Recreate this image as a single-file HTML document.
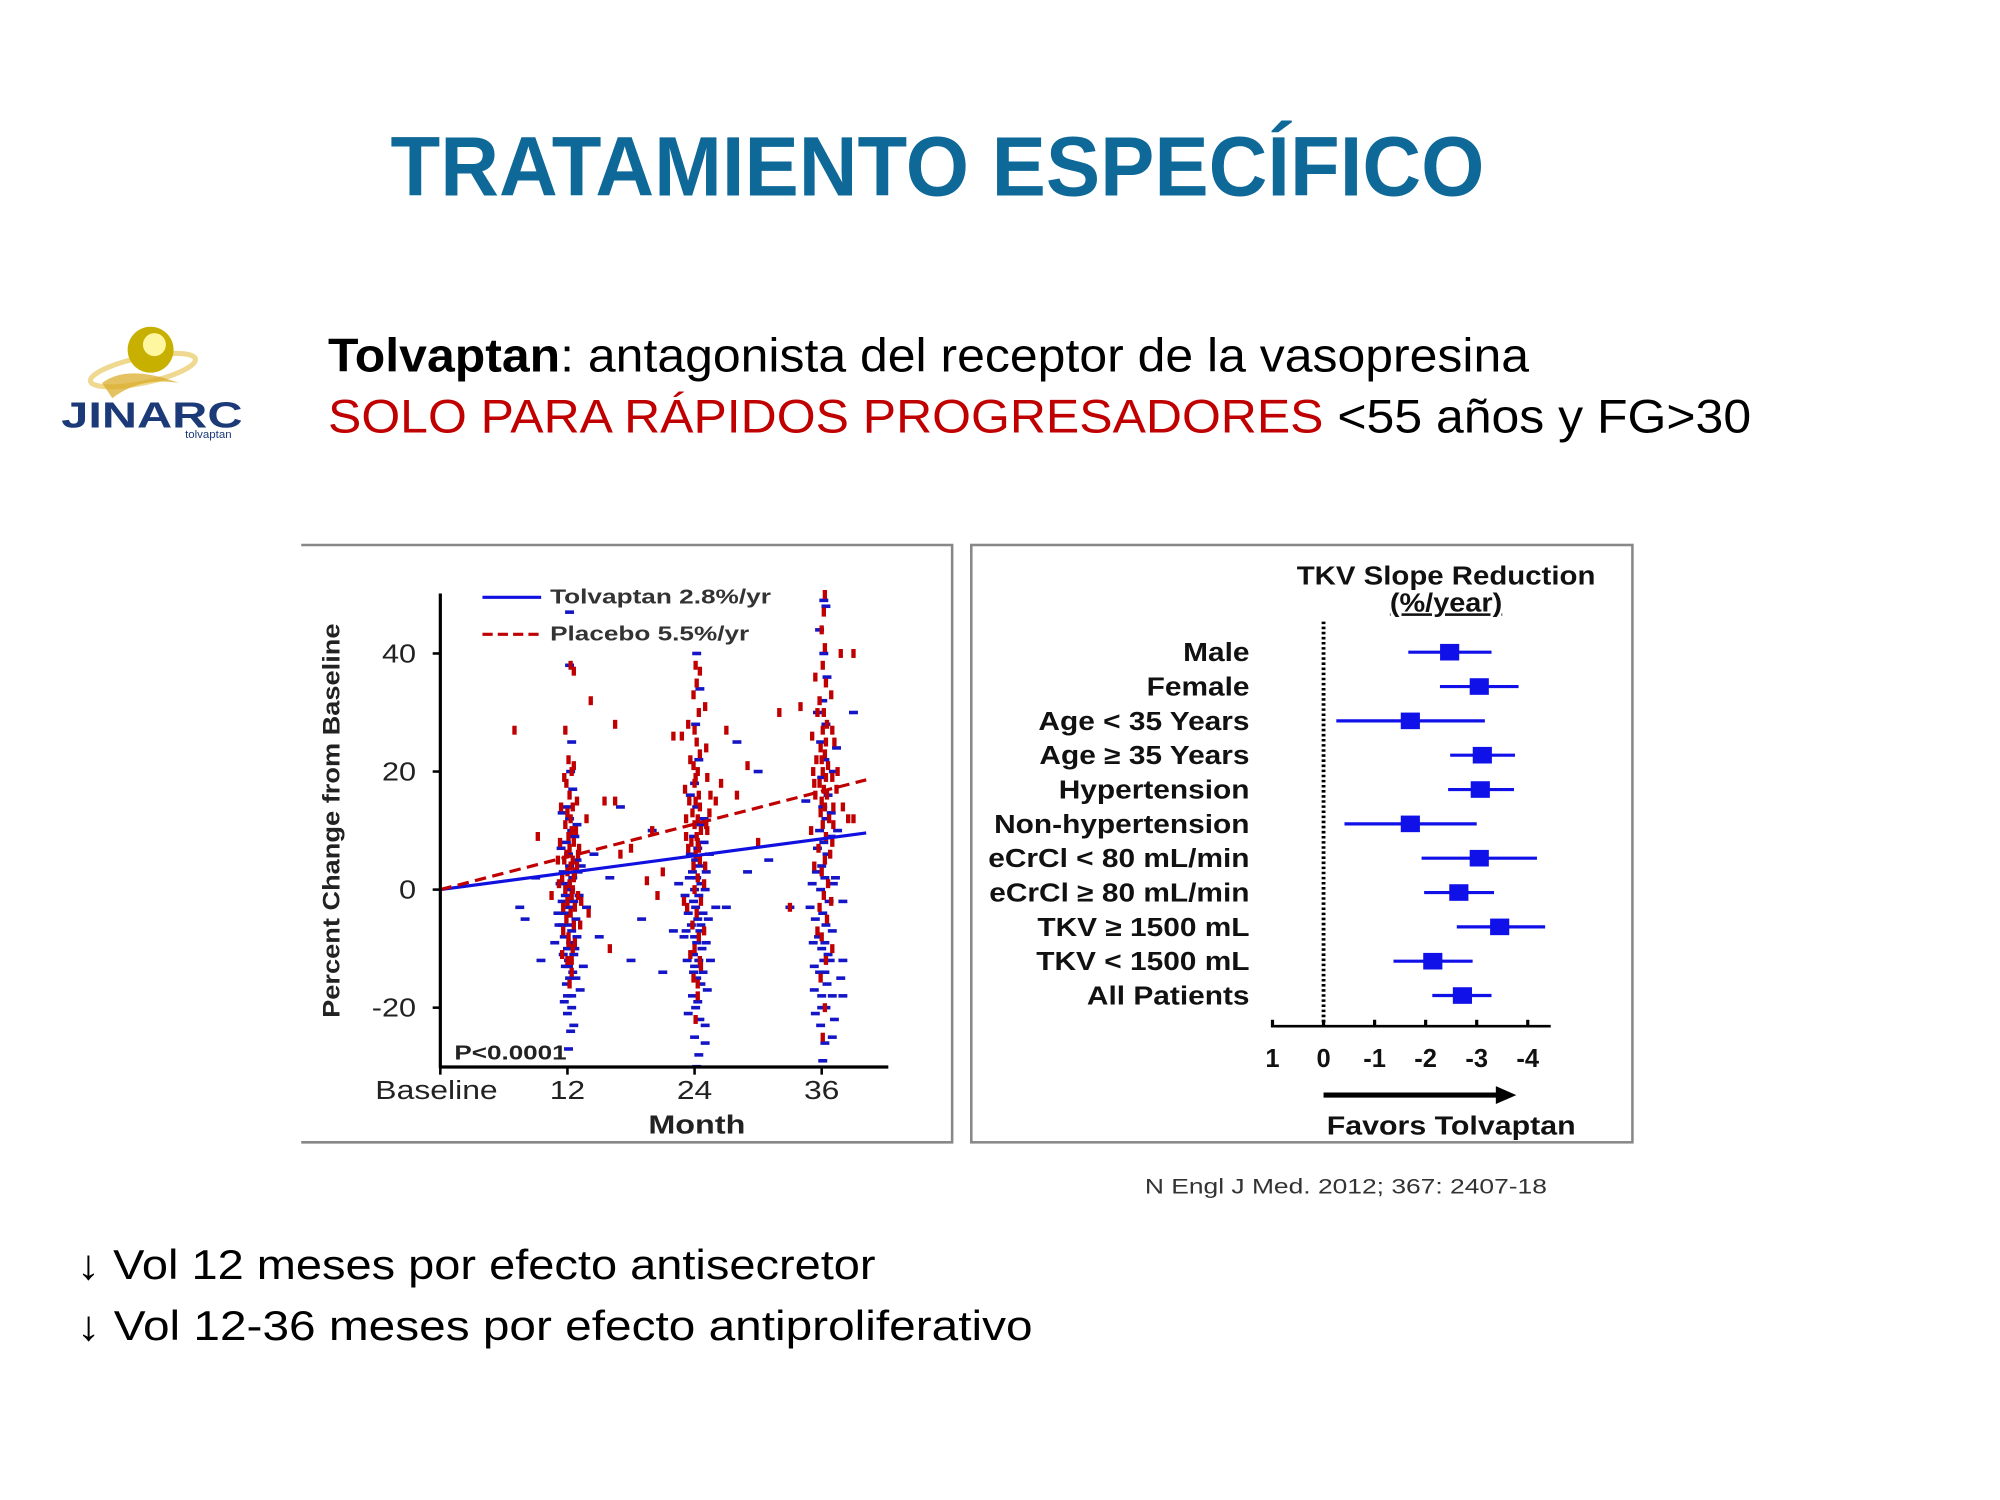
<!DOCTYPE html>
<html><head><meta charset="utf-8"><style>
html,body{margin:0;padding:0;background:#fff;}
svg{display:block;}
text{font-family:"Liberation Sans",Arial,sans-serif;}
</style></head><body>
<svg id="slide" width="2000" height="1500" viewBox="0 0 1567 1175" preserveAspectRatio="xMinYMin meet" xmlns="http://www.w3.org/2000/svg">
<rect x="0" y="0" width="1567" height="1175" fill="#fff"/>
<text x="306" y="153" font-size="66" font-weight="bold" fill="#0e6898" textLength="857" lengthAdjust="spacingAndGlyphs">TRATAMIENTO ESPECÍFICO</text>

<g>
<ellipse cx="112" cy="290" rx="42" ry="10" fill="none" stroke="#e8c860" stroke-width="4" opacity="0.7" transform="rotate(-12 112 290)"/>
<path d="M80 300 Q100 285 140 300 Q110 295 88 312 Z" fill="#d9a820" opacity="0.7"/>
<circle cx="118" cy="274" r="18" fill="#c8b000"/>
<circle cx="121" cy="270" r="9" fill="#fff6a0"/>
<text x="48" y="335" font-size="28" font-weight="bold" fill="#1c3a78" textLength="142" lengthAdjust="spacingAndGlyphs">JINARC</text>
<text x="145" y="343" font-size="9" fill="#1c3a78">tolvaptan</text>
</g>

<text x="257" y="291" font-size="37" fill="#000" textLength="941" lengthAdjust="spacingAndGlyphs"><tspan font-weight="bold">Tolvaptan</tspan>: antagonista del receptor de la vasopresina</text>
<text x="257" y="339" font-size="37" fill="#000" textLength="1115" lengthAdjust="spacingAndGlyphs"><tspan fill="#c00000">SOLO PARA RÁPIDOS PROGRESADORES</tspan> &lt;55 años y FG&gt;30</text>

<g>
<path d="M236 427 H746 V895 H236" fill="none" stroke="#888" stroke-width="2"/>
<g id="scatter"></g>
<line x1="345" y1="465" x2="345" y2="837" stroke="#000" stroke-width="2.5"/>
<line x1="344" y1="836" x2="696" y2="836" stroke="#000" stroke-width="2.5"/>
<g id="lefttick"></g>
<text transform="translate(266,643) rotate(-90)" text-anchor="middle" font-size="19" font-weight="bold" fill="#222" textLength="309" lengthAdjust="spacingAndGlyphs">Percent Change from Baseline</text>
<text x="546" y="888" text-anchor="middle" font-size="20" font-weight="bold" fill="#222" textLength="76" lengthAdjust="spacingAndGlyphs">Month</text>
<text x="356" y="830" font-size="16" font-weight="bold" fill="#222" textLength="88" lengthAdjust="spacingAndGlyphs">P&lt;0.0001</text>
<line x1="378" y1="468" x2="424" y2="468" stroke="#1010e0" stroke-width="2.5"/>
<text x="431" y="473" font-size="16" font-weight="bold" fill="#333" textLength="173" lengthAdjust="spacingAndGlyphs">Tolvaptan 2.8%/yr</text>
<line x1="378" y1="497" x2="424" y2="497" stroke="#c00000" stroke-width="2.5" stroke-dasharray="8,4"/>
<text x="431" y="502" font-size="16" font-weight="bold" fill="#333" textLength="156" lengthAdjust="spacingAndGlyphs">Placebo 5.5%/yr</text>
</g>

<g>
<rect x="761" y="427" width="518" height="468" fill="none" stroke="#888" stroke-width="2"/>
<text x="1133" y="458" text-anchor="middle" font-size="20" font-weight="bold" fill="#111" textLength="234" lengthAdjust="spacingAndGlyphs">TKV Slope Reduction</text>
<text x="1133" y="479" text-anchor="middle" font-size="20" font-weight="bold" fill="#111" text-decoration="underline" textLength="88" lengthAdjust="spacingAndGlyphs">(%/year)</text>
<line x1="1037" y1="487" x2="1037" y2="805" stroke="#000" stroke-width="3" stroke-dasharray="2,2"/>
<line x1="996" y1="804" x2="1215" y2="804" stroke="#000" stroke-width="2"/>
<g id="forest"></g>
<line x1="1037" y1="858" x2="1176" y2="858" stroke="#000" stroke-width="4"/>
<polygon points="1172,851 1188,858 1172,865" fill="#000"/>
<text x="1137" y="889" text-anchor="middle" font-size="20" font-weight="bold" fill="#111" textLength="195" lengthAdjust="spacingAndGlyphs">Favors Tolvaptan</text>
</g>
<text x="897" y="935" font-size="17" fill="#333" textLength="315" lengthAdjust="spacingAndGlyphs">N Engl J Med. 2012; 367: 2407-18</text>

<text x="60" y="1002" font-size="33" fill="#000" textLength="626" lengthAdjust="spacingAndGlyphs">↓ Vol 12 meses por efecto antisecretor</text>
<text x="60" y="1050" font-size="33" fill="#000" textLength="749" lengthAdjust="spacingAndGlyphs">↓  Vol 12-36 meses por efecto antiproliferativo</text>
</svg>
<script>
const NS="http://www.w3.org/2000/svg";
const yTicks=[-20,0,20,40];
const xTicks=[0,12,24,36];
const xTickLabels=["Baseline","12","24","36"];
const trendMonths=[0,40.2];
const tolvTrend=[0,9.6];
const placeboTrend=[0,18.6];
const tolvaptanPts=[[12.1,-27],[12.3,-24],[12.0,-21],[12.4,-18],[11.9,-16],[12.2,-15],[12.5,-14],[11.8,-13],[12.1,-12],[12.6,-11],[12.0,-10],[12.3,-9],[11.7,-8],[12.4,-7],[12.1,-6],[12.8,-5],[11.9,-4],[12.2,-3],[12.6,-2],[11.8,-1],[12.3,0],[12.0,1],[12.5,2],[11.6,3],[12.2,4],[12.9,5],[12.1,6],[11.9,8],[12.4,10],[12.2,12],[12.0,14],[12.5,17],[12.3,20],[12.4,25],[12.2,38],[12.2,47],[13.5,-13],[10.8,-9],[13.8,-3],[9.5,-12],[7.5,-3],[14.5,6],[16,2],[15,-8],[13.2,-17],[11.5,-6],[12.7,-10],[12.0,-18],[12.4,-20],[12.1,-13],
[11.5,-2],[12.9,-8],[11.3,1],[13.0,3],[11.6,-11],[12.8,-15],[11.4,7],[12.7,9],[11.7,-19],[13.1,-1],[11.2,-6],[12.9,11],[11.5,13],[12.6,-23],[13.3,4],[11.1,-4],
[9,2],[8,-5],[17,14],[19,-5],[20,10],[18,-12],[22,-7],[21,-14],[27,-3],[29,3],[31,5],[33,-3],[30,20],[28,25],[38,-2],[38,-18],[38,-12],[39,30],
[24.2,-30],[24.4,-28],[24.0,-25],[24.5,-22],[24.1,-20],[23.8,-18],[24.6,-16],[24.2,-15],[24.0,-13],[24.4,-12],[23.9,-11],[24.7,-10],[24.2,-9],[24.0,-8],[24.5,-7],[23.7,-6],[24.3,-5],[24.8,-4],[24.1,-3],[23.9,-2],[24.4,-1],[24.0,0],[24.6,1],[24.2,2],[23.8,3],[24.5,4],[24.1,5],[24.3,7],[23.9,9],[24.6,11],[24.2,14],[24.0,18],[24.4,22],[24.1,28],[24.5,34],[24.2,40],[25.3,-5],[23.0,-8],[26,-3],[25.5,-12],[22.5,1],[24.8,-14],[24.3,-19],[23.9,-14],[24.6,-6],[25,-23],
[23.4,-4],[25.1,-9],[23.5,2],[25.0,0],[23.3,-12],[25.2,-17],[23.6,6],[24.9,8],[23.4,-21],[25.1,3],[23.2,-7],[24.9,12],[23.6,16],[25.0,-26],[23.1,-1],[25.4,6],
[36.1,-29],[36.3,-26],[35.9,-23],[36.4,-20],[36.0,-18],[36.5,-16],[35.8,-14],[36.2,-12],[36.6,-11],[36.0,-10],[36.3,-9],[35.7,-8],[36.4,-6],[36.1,-4],[36.7,-2],[35.9,0],[36.3,2],[36.0,4],[36.5,6],[36.2,8],[35.8,10],[36.4,12],[36.1,14],[36.6,16],[36.0,19],[36.3,22],[35.9,25],[36.4,28],[36.1,32],[36.5,36],[36.2,40],[35.8,44],[36.4,48],[36.2,49],[37.3,2],[34.9,-3],[37.8,-15],[37.2,-22],[35.3,-17],[37.5,10],[34.5,15],[36.8,-12],[36.0,-20],[36.3,-14],
[35.4,-5],[37.0,-7],[35.5,3],[37.1,1],[35.3,-13],[37.0,-18],[35.6,7],[36.9,9],[35.4,-21],[37.1,20],[35.2,-9],[36.9,13],[35.6,30],[37.0,-25],[35.1,1],[37.4,24]];
const placeboPts=[[12.2,-16],[12.4,-14],[12.0,-12],[12.5,-10],[12.1,-8],[12.6,-6],[11.9,-5],[12.3,-4],[12.7,-3],[12.0,-2],[12.4,-1],[11.8,0],[12.2,1],[12.6,2],[12.0,3],[12.3,4],[12.5,5],[11.9,6],[12.2,7],[12.6,8],[12.1,9],[12.4,10],[11.8,11],[12.3,12],[12.0,13],[12.5,14],[12.2,16],[11.9,18],[12.4,20],[12.1,22],[11.8,27],[12.6,37],[12.3,38],[12.7,3],[11.7,5],[13.2,-6],[10.5,-1],[9.2,9],[13.8,12],[14.2,32],[15.5,15],[14.0,-4],[12.4,-12],[12.1,-9],[12.5,0],[11.6,-3],[13,6],
[11.5,2],[12.9,4],[11.3,8],[13.0,-1],[11.6,-7],[12.8,10],[11.4,14],[12.7,-9],[11.7,19],[13.1,7],[11.2,1],[12.9,15],[11.5,-11],[12.6,21],[13.3,-2],[11.1,5],
[7,27],[16,-10],[16.5,28],[17,6],[20,10],[21,3],[22,26],[23,-2],[26.5,18],[27,27],[28,16],[29,21],[30,8],[32,30],[33,-3],[34,31],[38,14],[39,12],[39,40],[16.5,15],[18,7],[19.5,1.5],[20.5,-1],
[24.1,-22],[24.3,-18],[23.9,-15],[24.5,-12],[24.0,-10],[24.4,-8],[23.8,-6],[24.2,-4],[24.6,-2],[24.0,0],[24.3,2],[23.9,4],[24.5,5],[24.1,6],[24.4,7],[23.7,8],[24.2,9],[24.6,10],[24.0,11],[24.3,12],[23.8,13],[24.5,14],[24.1,15],[24.4,16],[24.0,18],[24.3,20],[23.9,21],[24.5,23],[24.2,25],[24.0,27],[24.4,30],[23.9,33],[24.2,35],[24.5,37],[24.1,38],[25.2,10],[23.2,12],[25.5,16],[26,15],[22.8,26],[24.6,-13],[24.3,-16],[24.1,19],[24.3,8],
[23.4,7],[25.1,11],[23.5,15],[25.0,4],[23.3,-3],[25.2,19],[23.6,22],[24.9,-7],[23.4,28],[25.1,24],[23.2,9],[24.9,1],[23.6,-11],[25.0,31],[23.1,17],[25.4,13],
[36.1,-25],[36.3,-20],[35.9,-15],[36.4,-12],[36.0,-8],[36.5,-5],[35.8,-3],[36.2,-1],[36.6,1],[36.0,3],[36.3,5],[35.7,7],[36.4,9],[36.1,11],[36.7,12],[35.9,13],[36.3,14],[36.0,15],[36.5,16],[36.2,17],[35.8,18],[36.4,19],[36.1,20],[36.6,21],[36.0,22],[36.3,23],[35.9,24],[36.4,25],[36.1,27],[36.5,28],[36.2,30],[35.8,32],[36.4,35],[36.1,38],[36.3,41],[36.0,44],[36.2,47],[36.3,50],[37.5,20],[35.0,10],[37.8,40],[37.0,-10],[38.5,12],[37.2,25],[35.3,18],[36.8,6],
[35.4,16],[37.0,19],[35.5,22],[37.1,11],[35.3,4],[37.0,27],[35.6,30],[36.9,-2],[35.4,36],[37.1,14],[35.2,20],[36.9,33],[35.6,-7],[37.0,8],[35.1,26],[37.4,17]];

const forestLabels=["Male","Female","Age < 35 Years","Age \u2265 35 Years","Hypertension","Non-hypertension","eCrCl < 80 mL/min","eCrCl \u2265 80 mL/min","TKV \u2265 1500 mL","TKV < 1500 mL","All Patients"];
const forestEst=[-2.47,-3.05,-1.70,-3.11,-3.07,-1.70,-3.05,-2.65,-3.45,-2.14,-2.72];
const forestLo=[-1.66,-2.28,-0.25,-2.48,-2.44,-0.41,-1.92,-1.97,-2.61,-1.37,-2.13];
const forestHi=[-3.29,-3.82,-3.16,-3.75,-3.73,-3.0,-4.18,-3.34,-4.34,-2.92,-3.29];
const forestTicks=[1,0,-1,-2,-3,-4];

const sx=m=>345+m*8.3;
const sy=v=>697-v*4.625;
const fx=v=>1037-v*40;
const fy=i=>511+i*26.9;

function mk(tag,attrs,parent){const e=document.createElementNS(NS,tag);for(const k in attrs)e.setAttribute(k,attrs[k]);parent.appendChild(e);return e;}
function stretch(t,f){const w=t.getComputedTextLength();t.setAttribute('textLength',(w*f).toFixed(1));t.setAttribute('lengthAdjust','spacingAndGlyphs');}

const sc=document.getElementById('scatter');
tolvaptanPts.forEach(p=>{
 const r=mk('rect',{x:sx(p[0])-3.5,y:sy(p[1])-1.4,width:7,height:2.8,fill:'#1515c8'},sc);
 
 
});
placeboPts.forEach(p=>{
 const r=mk('rect',{x:sx(p[0])-1.7,y:sy(p[1])-3.5,width:3.4,height:7,fill:'#c00000'},sc);
 
 
});
const tl=mk('line',{x1:sx(trendMonths[0]),y1:sy(tolvTrend[0]),x2:sx(trendMonths[1]),y2:sy(tolvTrend[1]),stroke:'#1010e0','stroke-width':2.5},sc);


const pl=mk('line',{x1:sx(trendMonths[0]),y1:sy(placeboTrend[0]),x2:sx(trendMonths[1]),y2:sy(placeboTrend[1]),stroke:'#c00000','stroke-width':2.5,'stroke-dasharray':'9,5'},sc);



const lt=document.getElementById('lefttick');
yTicks.forEach(v=>{
 mk('line',{x1:339,y1:sy(v),x2:345,y2:sy(v),stroke:'#000','stroke-width':2},lt);
 const t=mk('text',{x:326,y:sy(v)+7,'text-anchor':'end','font-size':20,fill:'#222'},lt);
 t.textContent=v;
 
 
 stretch(t,1.2);
});
xTicks.forEach((m,i)=>{
 mk('line',{x1:sx(m),y1:836,x2:sx(m),y2:842,stroke:'#000','stroke-width':2},lt);
 const t=mk('text',{x:sx(m)-(i===0?3:0),y:861,'text-anchor':'middle','font-size':20,fill:'#222'},lt);
 t.textContent=xTickLabels[i];
 
 
 stretch(t,1.25);
});

const fg=document.getElementById('forest');
forestLabels.forEach((lab,i)=>{
 const t=mk('text',{x:979,y:fy(i)+7,'text-anchor':'end','font-size':20,'font-weight':'bold',fill:'#111'},fg);
 t.textContent=lab;
 
 
 stretch(t,1.17);
 const w=mk('line',{x1:fx(forestLo[i]),y1:fy(i),x2:fx(forestHi[i]),y2:fy(i),stroke:'#1010e8','stroke-width':2.5},fg);
 
 
 const b=mk('rect',{x:fx(forestEst[i])-7.5,y:fy(i)-6.5,width:15,height:13,fill:'#1010e8'},fg);
 
 
});
forestTicks.forEach(v=>{
 mk('line',{x1:fx(v),y1:799,x2:fx(v),y2:805,stroke:'#000','stroke-width':2.5},fg);
 const t=mk('text',{x:fx(v),y:836,'text-anchor':'middle','font-size':20,'font-weight':'bold',fill:'#111'},fg);
 t.textContent=v;
 
 
});
</script>
</body></html>
